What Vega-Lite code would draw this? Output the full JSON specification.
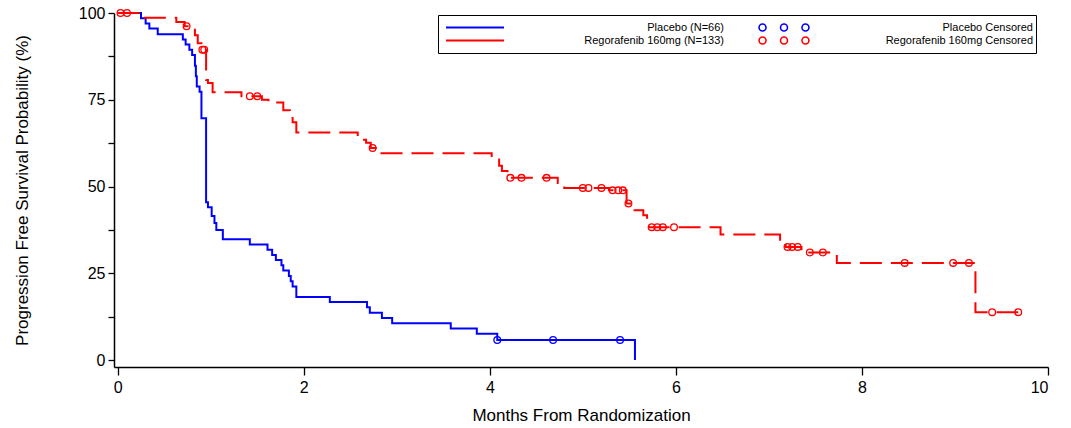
{
  "$schema": "https://vega.github.io/schema/vega-lite/v6.json",
  "width": 934,
  "height": 354,
  "autosize": "none",
  "padding": {"left": 114, "top": 13, "right": 23, "bottom": 61},
  "background": "white",
  "config": {
    "view": {"stroke": null},
    "font": "Liberation Sans",
    "axis": {"grid": false, "domainColor": "black", "domainWidth": 1.5, "tickColor": "black", "tickWidth": 1.3, "labelColor": "black", "titleColor": "black", "titleFontWeight": "normal"}
  },
  "datasets": {
    "km": [
      {"series": "Placebo (N=66)", "t": 0, "s": 100},
      {"series": "Placebo (N=66)", "t": 0.25, "s": 98.5},
      {"series": "Placebo (N=66)", "t": 0.30, "s": 97.0},
      {"series": "Placebo (N=66)", "t": 0.34, "s": 95.5},
      {"series": "Placebo (N=66)", "t": 0.43, "s": 93.9},
      {"series": "Placebo (N=66)", "t": 0.70, "s": 92.4},
      {"series": "Placebo (N=66)", "t": 0.73, "s": 90.9},
      {"series": "Placebo (N=66)", "t": 0.77, "s": 89.4},
      {"series": "Placebo (N=66)", "t": 0.80, "s": 87.9},
      {"series": "Placebo (N=66)", "t": 0.83, "s": 84.8},
      {"series": "Placebo (N=66)", "t": 0.84, "s": 81.8},
      {"series": "Placebo (N=66)", "t": 0.85, "s": 78.8},
      {"series": "Placebo (N=66)", "t": 0.88, "s": 77.3},
      {"series": "Placebo (N=66)", "t": 0.90, "s": 69.7},
      {"series": "Placebo (N=66)", "t": 0.95, "s": 45.5},
      {"series": "Placebo (N=66)", "t": 0.97, "s": 44.0},
      {"series": "Placebo (N=66)", "t": 1.01, "s": 41.5},
      {"series": "Placebo (N=66)", "t": 1.04, "s": 39.5},
      {"series": "Placebo (N=66)", "t": 1.06, "s": 37.5},
      {"series": "Placebo (N=66)", "t": 1.13, "s": 34.8},
      {"series": "Placebo (N=66)", "t": 1.42, "s": 33.3},
      {"series": "Placebo (N=66)", "t": 1.61, "s": 31.8},
      {"series": "Placebo (N=66)", "t": 1.66, "s": 30.3},
      {"series": "Placebo (N=66)", "t": 1.70, "s": 28.8},
      {"series": "Placebo (N=66)", "t": 1.76, "s": 27.3},
      {"series": "Placebo (N=66)", "t": 1.78, "s": 25.8},
      {"series": "Placebo (N=66)", "t": 1.84, "s": 24.2},
      {"series": "Placebo (N=66)", "t": 1.86, "s": 22.7},
      {"series": "Placebo (N=66)", "t": 1.88, "s": 21.2},
      {"series": "Placebo (N=66)", "t": 1.92, "s": 18.2},
      {"series": "Placebo (N=66)", "t": 2.28, "s": 16.7},
      {"series": "Placebo (N=66)", "t": 2.68, "s": 15.2},
      {"series": "Placebo (N=66)", "t": 2.71, "s": 13.6},
      {"series": "Placebo (N=66)", "t": 2.84, "s": 12.1},
      {"series": "Placebo (N=66)", "t": 2.95, "s": 10.6},
      {"series": "Placebo (N=66)", "t": 3.58, "s": 9.1},
      {"series": "Placebo (N=66)", "t": 3.86, "s": 7.6},
      {"series": "Placebo (N=66)", "t": 4.08, "s": 5.8},
      {"series": "Placebo (N=66)", "t": 5.56, "s": 0},
      {"series": "Regorafenib 160mg (N=133)", "t": 0, "s": 100},
      {"series": "Regorafenib 160mg (N=133)", "t": 0.26, "s": 98.6},
      {"series": "Regorafenib 160mg (N=133)", "t": 0.63, "s": 97.4},
      {"series": "Regorafenib 160mg (N=133)", "t": 0.72, "s": 96.2},
      {"series": "Regorafenib 160mg (N=133)", "t": 0.83, "s": 93.6},
      {"series": "Regorafenib 160mg (N=133)", "t": 0.86, "s": 91.3},
      {"series": "Regorafenib 160mg (N=133)", "t": 0.90, "s": 89.4},
      {"series": "Regorafenib 160mg (N=133)", "t": 0.95, "s": 80.7},
      {"series": "Regorafenib 160mg (N=133)", "t": 0.97, "s": 79.8},
      {"series": "Regorafenib 160mg (N=133)", "t": 1.02, "s": 77.2},
      {"series": "Regorafenib 160mg (N=133)", "t": 1.33, "s": 76.0},
      {"series": "Regorafenib 160mg (N=133)", "t": 1.55, "s": 75.0},
      {"series": "Regorafenib 160mg (N=133)", "t": 1.62, "s": 74.2},
      {"series": "Regorafenib 160mg (N=133)", "t": 1.78, "s": 72.0},
      {"series": "Regorafenib 160mg (N=133)", "t": 1.85, "s": 70.6},
      {"series": "Regorafenib 160mg (N=133)", "t": 1.88, "s": 68.5},
      {"series": "Regorafenib 160mg (N=133)", "t": 1.92, "s": 65.6},
      {"series": "Regorafenib 160mg (N=133)", "t": 2.58, "s": 63.5},
      {"series": "Regorafenib 160mg (N=133)", "t": 2.67, "s": 62.6},
      {"series": "Regorafenib 160mg (N=133)", "t": 2.72, "s": 61.1},
      {"series": "Regorafenib 160mg (N=133)", "t": 2.80, "s": 59.6},
      {"series": "Regorafenib 160mg (N=133)", "t": 4.02, "s": 57.8},
      {"series": "Regorafenib 160mg (N=133)", "t": 4.10, "s": 56.0},
      {"series": "Regorafenib 160mg (N=133)", "t": 4.13, "s": 54.5},
      {"series": "Regorafenib 160mg (N=133)", "t": 4.19, "s": 52.5},
      {"series": "Regorafenib 160mg (N=133)", "t": 4.73, "s": 51.0},
      {"series": "Regorafenib 160mg (N=133)", "t": 4.80, "s": 49.6},
      {"series": "Regorafenib 160mg (N=133)", "t": 5.28, "s": 48.9},
      {"series": "Regorafenib 160mg (N=133)", "t": 5.47, "s": 45.1},
      {"series": "Regorafenib 160mg (N=133)", "t": 5.52, "s": 43.2},
      {"series": "Regorafenib 160mg (N=133)", "t": 5.65, "s": 41.7},
      {"series": "Regorafenib 160mg (N=133)", "t": 5.69, "s": 39.8},
      {"series": "Regorafenib 160mg (N=133)", "t": 5.71, "s": 38.3},
      {"series": "Regorafenib 160mg (N=133)", "t": 6.48, "s": 36.2},
      {"series": "Regorafenib 160mg (N=133)", "t": 7.12, "s": 33.9},
      {"series": "Regorafenib 160mg (N=133)", "t": 7.18, "s": 32.6},
      {"series": "Regorafenib 160mg (N=133)", "t": 7.35, "s": 31.0},
      {"series": "Regorafenib 160mg (N=133)", "t": 7.73, "s": 28.0},
      {"series": "Regorafenib 160mg (N=133)", "t": 9.22, "s": 13.8},
      {"series": "Regorafenib 160mg (N=133)", "t": 9.68, "s": 13.8}
    ],
    "cens": [
      {"series": "Placebo Censored", "t": 4.08, "s": 5.8},
      {"series": "Placebo Censored", "t": 4.68, "s": 5.8},
      {"series": "Placebo Censored", "t": 5.40, "s": 5.8},
      {"series": "Regorafenib 160mg Censored", "t": 0.03, "s": 100},
      {"series": "Regorafenib 160mg Censored", "t": 0.10, "s": 100},
      {"series": "Regorafenib 160mg Censored", "t": 0.74, "s": 96.2},
      {"series": "Regorafenib 160mg Censored", "t": 0.91, "s": 89.4},
      {"series": "Regorafenib 160mg Censored", "t": 0.93, "s": 89.4},
      {"series": "Regorafenib 160mg Censored", "t": 1.42, "s": 76.0},
      {"series": "Regorafenib 160mg Censored", "t": 1.50, "s": 76.0},
      {"series": "Regorafenib 160mg Censored", "t": 2.74, "s": 61.1},
      {"series": "Regorafenib 160mg Censored", "t": 4.22, "s": 52.5},
      {"series": "Regorafenib 160mg Censored", "t": 4.34, "s": 52.5},
      {"series": "Regorafenib 160mg Censored", "t": 4.61, "s": 52.5},
      {"series": "Regorafenib 160mg Censored", "t": 5.00, "s": 49.6},
      {"series": "Regorafenib 160mg Censored", "t": 5.06, "s": 49.6},
      {"series": "Regorafenib 160mg Censored", "t": 5.20, "s": 49.6},
      {"series": "Regorafenib 160mg Censored", "t": 5.32, "s": 48.9},
      {"series": "Regorafenib 160mg Censored", "t": 5.38, "s": 48.9},
      {"series": "Regorafenib 160mg Censored", "t": 5.43, "s": 48.9},
      {"series": "Regorafenib 160mg Censored", "t": 5.49, "s": 45.1},
      {"series": "Regorafenib 160mg Censored", "t": 5.74, "s": 38.3},
      {"series": "Regorafenib 160mg Censored", "t": 5.80, "s": 38.3},
      {"series": "Regorafenib 160mg Censored", "t": 5.86, "s": 38.3},
      {"series": "Regorafenib 160mg Censored", "t": 5.98, "s": 38.3},
      {"series": "Regorafenib 160mg Censored", "t": 7.20, "s": 32.6},
      {"series": "Regorafenib 160mg Censored", "t": 7.25, "s": 32.6},
      {"series": "Regorafenib 160mg Censored", "t": 7.31, "s": 32.6},
      {"series": "Regorafenib 160mg Censored", "t": 7.44, "s": 31.0},
      {"series": "Regorafenib 160mg Censored", "t": 7.58, "s": 31.0},
      {"series": "Regorafenib 160mg Censored", "t": 8.46, "s": 28.0},
      {"series": "Regorafenib 160mg Censored", "t": 8.98, "s": 28.0},
      {"series": "Regorafenib 160mg Censored", "t": 9.15, "s": 28.0},
      {"series": "Regorafenib 160mg Censored", "t": 9.40, "s": 13.8},
      {"series": "Regorafenib 160mg Censored", "t": 9.68, "s": 13.8}
    ]
  },
  "encoding": {
    "x": {
      "field": "t", "type": "quantitative",
      "scale": {"domain": [-0.04, 10], "nice": false, "zero": false},
      "axis": {"values": [0, 2, 4, 6, 8, 10], "tickSize": 8, "labelFontSize": 16, "labelPadding": 4, "title": "Months From Randomization", "titleFontSize": 17, "titlePadding": 12}
    },
    "y": {
      "field": "s", "type": "quantitative",
      "scale": {"domain": [-2, 100], "nice": false, "zero": false},
      "axis": {"values": [0, 12.5, 25, 37.5, 50, 62.5, 75, 87.5, 100], "labelExpr": "datum.value % 25 === 0 ? datum.label : ''", "tickSize": 6, "labelFontSize": 16, "labelPadding": 3, "title": "Progression Free Survival Probability (%)", "titleFontSize": 17, "titlePadding": 47}
    }
  },
  "resolve": {"legend": {"color": "independent"}},
  "layer": [
    {
      "data": {"name": "km"},
      "mark": {"type": "line", "interpolate": "step-after", "strokeWidth": 2},
      "encoding": {
        "color": {
          "field": "series", "type": "nominal",
          "scale": {"domain": ["Placebo (N=66)", "Regorafenib 160mg (N=133)", "Placebo Censored", "Regorafenib 160mg Censored"], "range": ["#0000ff", "#ff0000", "#0000ff", "#ff0000"]},
          "legend": {
            "values": ["Placebo (N=66)", "Regorafenib 160mg (N=133)"],
            "title": " ",
            "titleOrient": "right",
            "titlePadding": 305,
            "titleFontSize": 8,
            "orient": "none",
            "legendX": 324,
            "legendY": 2,
            "rowPadding": 1,
            "clipHeight": 11,
            "padding": 7,
            "strokeColor": "black",
            "symbolSize": 3364,
            "symbolType": "stroke",
            "symbolStrokeWidth": 2,
            "labelAlign": "right",
            "labelOffset": 219,
            "labelLimit": 400,
            "labelFontSize": 11,
            "labelColor": "black"
          }
        },
        "strokeDash": {
          "field": "series", "type": "nominal",
          "scale": {"domain": ["Placebo (N=66)", "Regorafenib 160mg (N=133)", "Placebo Censored", "Regorafenib 160mg Censored"], "range": [[1, 0], [22, 9], [1, 0], [1, 0]]},
          "legend": null
        }
      }
    },
    {
      "data": {"name": "cens"},
      "mark": {"type": "point", "shape": "circle", "filled": false, "size": 45, "strokeWidth": 1.3, "opacity": 1},
      "encoding": {
        "color": {
          "field": "series", "type": "nominal",
          "legend": {
            "values": ["Placebo Censored", "Regorafenib 160mg Censored"],
            "title": null,
            "orient": "none",
            "legendX": 640,
            "legendY": 9,
            "rowPadding": 1,
            "clipHeight": 11,
            "padding": 0,
            "symbolSize": 3364,
            "symbolType": "M-0.86,0A0.12,0.12,0,1,0,-0.62,0A0.12,0.12,0,1,0,-0.86,0ZM-0.12,0A0.12,0.12,0,1,0,0.12,0A0.12,0.12,0,1,0,-0.12,0ZM0.62,0A0.12,0.12,0,1,0,0.86,0A0.12,0.12,0,1,0,0.62,0Z",
            "symbolStrokeWidth": 1.6,
            "labelAlign": "right",
            "labelOffset": 219,
            "labelLimit": 400,
            "labelFontSize": 11,
            "labelColor": "black"
          }
        }
      }
    }
  ]
}
